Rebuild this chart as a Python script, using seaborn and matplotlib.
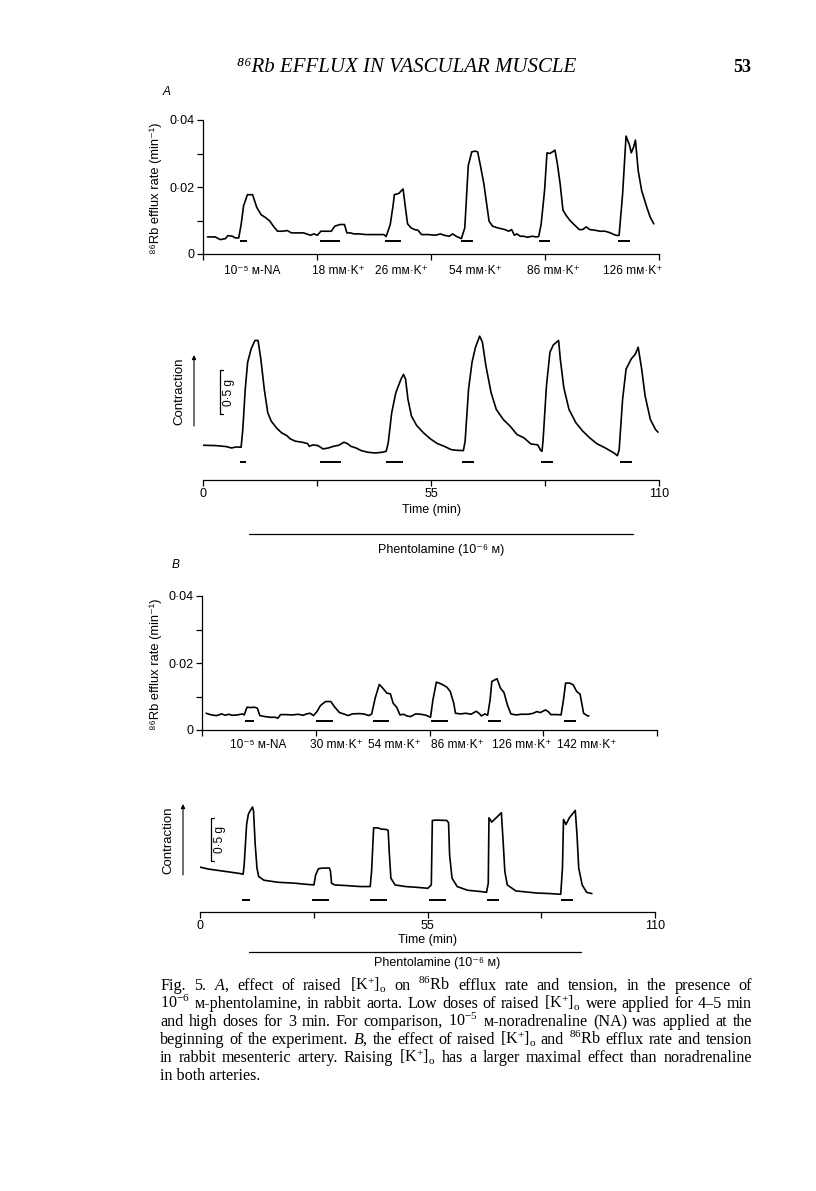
import numpy as np
import pandas as pd
import matplotlib
matplotlib.use("Agg")
import matplotlib.pyplot as plt
import matplotlib.transforms as mtransforms
import seaborn as sns

# ---------------- data ----------------
# Panel A (rabbit aorta): 86Rb efflux rate (min^-1) vs time (min)
effA_t = [1.09, 2.93, 4.18, 5.44, 6.02, 7.11, 7.78, 8.62, 9.20, 9.79,
          10.71, 11.96, 12.97, 14.05, 15.06, 16.14, 16.98, 17.98, 19.24, 20.33,
          21.33, 23.00, 24.26, 25.93, 26.77, 27.60, 28.44, 30.11, 30.95, 31.79,
          33.04, 34.13, 34.71, 35.55, 36.39, 37.64, 39.31, 40.99, 42.66, 43.66,
          44.17, 45.17, 45.84, 46.17, 47.26, 47.85, 48.27, 48.77, 49.35, 50.19,
          51.03, 51.86, 52.70, 54.37, 56.05, 57.30, 58.14, 59.39, 60.23, 61.06,
          62.32, 63.15, 63.99, 64.83, 65.67, 66.25, 66.92, 67.76, 68.43, 69.01,
          69.85, 71.10, 72.78, 73.78, 74.45, 75.12, 75.70, 76.54, 77.38, 78.21,
          79.47, 80.30, 80.97, 81.56, 82.39, 82.98, 83.65, 84.32, 84.90, 85.49,
          86.16, 86.83, 87.67, 88.67, 89.51, 90.76, 91.60, 92.44, 93.27, 94.53,
          95.78, 97.03, 98.29, 99.12, 99.96, 100.38, 101.22, 102.05, 102.89, 103.31,
          103.90, 104.31, 104.98, 105.82, 107.07, 107.91, 108.75]
effA_v = [0.0051, 0.0051, 0.0043, 0.0046, 0.0055, 0.0053, 0.0048, 0.0048, 0.0088, 0.0144,
          0.0177, 0.0177, 0.0139, 0.0117, 0.0109, 0.0098, 0.0083, 0.0068, 0.0068, 0.0070,
          0.0063, 0.0063, 0.0063, 0.0056, 0.0060, 0.0056, 0.0068, 0.0068, 0.0068, 0.0083,
          0.0088, 0.0088, 0.0063, 0.0063, 0.0060, 0.0060, 0.0058, 0.0058, 0.0058, 0.0058,
          0.0052, 0.0088, 0.0144, 0.0177, 0.0181, 0.0189, 0.0194, 0.0144, 0.0090, 0.0078,
          0.0073, 0.0071, 0.0058, 0.0058, 0.0056, 0.0060, 0.0056, 0.0053, 0.0060, 0.0053,
          0.0046, 0.0078, 0.0264, 0.0305, 0.0307, 0.0305, 0.0264, 0.0209, 0.0149, 0.0098,
          0.0083, 0.0078, 0.0073, 0.0068, 0.0073, 0.0056, 0.0060, 0.0053, 0.0053, 0.0050,
          0.0053, 0.0051, 0.0052, 0.0088, 0.0189, 0.0302, 0.0300, 0.0305, 0.0310, 0.0269,
          0.0209, 0.0131, 0.0114, 0.0098, 0.0088, 0.0073, 0.0073, 0.0081, 0.0073, 0.0071,
          0.0068, 0.0068, 0.0063, 0.0058, 0.0055, 0.0056, 0.0179, 0.0352, 0.0325, 0.0302,
          0.0320, 0.0340, 0.0249, 0.0189, 0.0139, 0.0109, 0.0090]

# Panel A: contraction (g, relative) vs time (min)
conA_t = [0, 3.09, 5.60, 6.85, 8.10, 9.19, 9.60, 10.19, 10.77, 11.61,
          12.53, 13.28, 13.95, 14.78, 15.62, 16.45, 17.71, 18.96, 20.21, 21.05,
          22.30, 23.97, 25.22, 25.64, 26.48, 27.73, 28.98, 30.23, 31.49, 32.74,
          33.99, 34.83, 35.66, 36.92, 38.17, 39.84, 41.51, 43.18, 44.18, 44.68,
          45.52, 46.52, 47.77, 48.36, 48.86, 49.44, 50.28, 51.53, 53.20, 54.87,
          56.54, 58.21, 59.88, 61.14, 62.81, 63.23, 64.06, 64.90, 65.73, 66.73,
          67.40, 68.24, 69.49, 70.74, 72.41, 74.08, 75.75, 77.42, 79.09, 80.76,
          81.43, 81.77, 82.02, 82.85, 83.69, 84.52, 85.78, 86.19, 87.03, 88.28,
          89.95, 91.62, 93.29, 94.96, 97.05, 99.14, 99.97, 100.39, 101.22, 102.06,
          103.31, 104.32, 104.98, 105.82, 106.65, 107.91, 109.16, 109.75]
conA_g = [0.088, 0.084, 0.073, 0.057, 0.069, 0.065, 0.267, 0.725, 1.031, 1.183,
          1.279, 1.279, 1.069, 0.725, 0.458, 0.363, 0.286, 0.229, 0.198, 0.160,
          0.134, 0.122, 0.107, 0.076, 0.092, 0.084, 0.046, 0.057, 0.076, 0.088,
          0.122, 0.107, 0.076, 0.057, 0.027, 0.008, 0.0, 0.008, 0.019, 0.115,
          0.458, 0.687, 0.840, 0.893, 0.840, 0.611, 0.420, 0.313, 0.229, 0.160,
          0.107, 0.076, 0.038, 0.031, 0.027, 0.134, 0.725, 1.031, 1.202, 1.328,
          1.260, 0.992, 0.687, 0.496, 0.382, 0.305, 0.210, 0.172, 0.103, 0.092,
          0.031, 0.019, 0.134, 0.763, 1.145, 1.229, 1.279, 1.069, 0.744, 0.496,
          0.344, 0.248, 0.172, 0.107, 0.057, 0.0, -0.031, 0.038, 0.611, 0.954,
          1.069, 1.126, 1.202, 0.954, 0.649, 0.382, 0.267, 0.237]

# Panel B (rabbit mesenteric artery)
effB_t = [1.00, 2.26, 3.52, 4.77, 5.61, 6.45, 7.28, 8.54, 9.79, 10.21,
          10.88, 11.72, 12.72, 13.39, 13.98, 15.24, 16.49, 17.75, 18.33, 19.00,
          20.26, 21.93, 23.19, 24.44, 25.28, 26.12, 26.95, 27.79, 28.63, 29.88,
          31.14, 31.98, 33.23, 34.49, 35.33, 36.33, 37.84, 39.09, 40.35, 41.02,
          41.86, 42.86, 43.70, 44.70, 45.54, 46.21, 47.05, 47.88, 48.72, 49.56,
          50.39, 51.65, 52.90, 54.16, 55.25, 55.83, 56.67, 57.93, 59.18, 60.02,
          60.86, 61.28, 62.53, 63.79, 65.04, 66.30, 67.13, 67.55, 68.39, 69.06,
          69.65, 70.07, 71.32, 72.16, 73.00, 73.83, 74.67, 75.93, 77.18, 78.86,
          80.11, 80.95, 81.79, 83.04, 83.88, 84.30, 85.97, 86.81, 87.39, 87.90,
          88.90, 89.74, 90.58, 91.41, 92.25, 93.09, 93.51]
effB_v = [0.0050, 0.0045, 0.0043, 0.0048, 0.0044, 0.0047, 0.0044, 0.0045, 0.0048, 0.0045,
          0.0068, 0.0067, 0.0068, 0.0065, 0.0043, 0.0040, 0.0038, 0.0038, 0.0035, 0.0046,
          0.0046, 0.0045, 0.0047, 0.0044, 0.0048, 0.0050, 0.0043, 0.0055, 0.0073, 0.0085,
          0.0085, 0.0070, 0.0052, 0.0047, 0.0043, 0.0048, 0.0049, 0.0048, 0.0043, 0.0048,
          0.0095, 0.0136, 0.0125, 0.0110, 0.0108, 0.0080, 0.0068, 0.0045, 0.0047, 0.0042,
          0.0040, 0.0048, 0.0047, 0.0044, 0.0038, 0.0090, 0.0143, 0.0137, 0.0128, 0.0115,
          0.0080, 0.0050, 0.0048, 0.0050, 0.0047, 0.0056, 0.0048, 0.0042, 0.0048, 0.0044,
          0.0090, 0.0145, 0.0153, 0.0125, 0.0112, 0.0075, 0.0048, 0.0045, 0.0047, 0.0047,
          0.0050, 0.0055, 0.0052, 0.0060, 0.0053, 0.0046, 0.0046, 0.0045, 0.0090, 0.0140,
          0.0140, 0.0135, 0.0115, 0.0107, 0.0050, 0.0043, 0.0042]

conB_t = [0, 2.09, 6.26, 9.60, 10.43, 10.68, 11.27, 11.68, 12.10, 12.69,
          12.94, 13.35, 13.77, 14.19, 15.44, 18.78, 22.95, 25.46, 27.54, 27.96,
          28.63, 29.63, 31.30, 31.55, 31.80, 32.55, 35.47, 38.81, 41.15, 41.48,
          41.98, 42.98, 43.82, 45.07, 45.49, 45.74, 46.15, 47.15, 49.66, 52.16,
          55.08, 55.92, 56.17, 57.17, 59.67, 60.09, 60.34, 60.93, 62.18, 64.68,
          68.02, 69.27, 69.69, 69.86, 70.52, 71.78, 72.86, 73.28, 73.70, 74.28,
          76.37, 81.37, 84.71, 87.21, 87.63, 87.88, 88.47, 89.30, 90.72, 91.14,
          91.56, 92.39, 93.48, 94.73]
conB_g = [0.324, 0.301, 0.273, 0.250, 0.242, 0.352, 0.820, 0.938, 0.977, 1.023,
          0.977, 0.586, 0.313, 0.215, 0.172, 0.148, 0.137, 0.125, 0.117, 0.234,
          0.305, 0.313, 0.313, 0.273, 0.137, 0.117, 0.109, 0.098, 0.098, 0.273,
          0.781, 0.781, 0.766, 0.762, 0.750, 0.508, 0.195, 0.117, 0.098, 0.090,
          0.078, 0.117, 0.867, 0.871, 0.867, 0.840, 0.469, 0.195, 0.098, 0.055,
          0.039, 0.031, 0.137, 0.898, 0.848, 0.906, 0.957, 0.625, 0.273, 0.117,
          0.047, 0.023, 0.016, 0.008, 0.313, 0.879, 0.820, 0.898, 0.984, 0.703,
          0.313, 0.117, 0.031, 0.016]

# application periods (min)
stimA_eff_start = [9.0, 28.3, 44.0, 62.3, 81.1, 100.2]
stimA_eff_end = [10.7, 33.0, 47.8, 65.2, 83.8, 103.0]
stimA_con_start = [8.9, 28.3, 44.2, 62.4, 81.6, 100.6]
stimA_con_end = [10.4, 33.3, 48.2, 65.3, 84.5, 103.6]
stimB_eff_start = [10.5, 27.5, 41.4, 55.4, 69.2, 87.4]
stimB_eff_end = [12.5, 31.6, 45.2, 59.4, 72.2, 90.4]
stimB_con_start = [10.2, 27.1, 41.1, 55.3, 69.3, 87.2]
stimB_con_end = [12.1, 31.3, 45.3, 59.4, 72.4, 90.1]
phentA = [11.0, 103.7]
phentB = [11.9, 92.1]

labelsA = ["10⁻⁵ ᴍ-NA", "18 mᴍ·K⁺", "26 mᴍ·K⁺", "54 mᴍ·K⁺", "86 mᴍ·K⁺", "126 mᴍ·K⁺"]
labelsB = ["10⁻⁵ ᴍ-NA", "30 mᴍ·K⁺", "54 mᴍ·K⁺", "86 mᴍ·K⁺", "126 mᴍ·K⁺", "142 mᴍ·K⁺"]
time_ticks = [0, 27.5, 55, 82.5, 110]
time_ticklabels = ["0", "", "55", "", "110"]
eff_ticks = [0, 0.02, 0.04]
eff_ticklabels = ["0", "0·02", "0·04"]
eff_minor = [0.01, 0.03]

KO = r"$[\mathrm{K}^{+}]_{\mathrm{o}}$"
caption = [
    r"Fig. 5. $\it{A}$, effect of raised " + KO + r" on ${}^{86}$Rb efflux rate and tension, in the presence of",
    r"10${}^{-6}$ ᴍ-phentolamine, in rabbit aorta. Low doses of raised " + KO + r" were applied for 4–5 min",
    r"and high doses for 3 min. For comparison, 10${}^{-5}$ ᴍ-noradrenaline (NA) was applied at the",
    r"beginning of the experiment. $\it{B}$, the effect of raised " + KO + r" and ${}^{86}$Rb efflux rate and tension",
    r"in rabbit mesenteric artery. Raising " + KO + r" has a larger maximal effect than noradrenaline",
    r"in both arteries.",
]

# ---------------- style ----------------
sns.set_theme(style="ticks")
SANS = ['Liberation Sans', 'DejaVu Sans']
SERIF = ['Liberation Serif', 'DejaVu Serif', 'DejaVu Sans']
plt.rcParams['font.family'] = SANS
plt.rcParams['mathtext.fontset'] = 'custom'
plt.rcParams['mathtext.rm'] = 'Liberation Serif'
plt.rcParams['mathtext.it'] = 'Liberation Serif:italic'
plt.rcParams['mathtext.bf'] = 'Liberation Serif:bold'
plt.rcParams['axes.linewidth'] = 0.9
plt.rcParams['text.color'] = 'black'

W, H = 816, 1191
fig = plt.figure(figsize=(W / 100, H / 100), dpi=100)
fig.patch.set_facecolor('white')


def fy(ypx):
    return 1 - ypx / H


def fx(xpx):
    return xpx / W


def px_axes(left, right, top, bottom):
    ax = fig.add_axes([left / W, 1 - bottom / H, (right - left) / W, (bottom - top) / H])
    ax.set_facecolor('none')
    return ax


LW = 1.2
TICK_FS = 9
LAB_FS = 8.6
AX_FS = 9


def style_time_axis(ax, show_labels):
    ax.set_xlim(0, 110)
    ax.set_xticks(time_ticks)
    ax.set_xticklabels(time_ticklabels if show_labels else [""] * len(time_ticks))
    ax.tick_params(axis='x', direction='out', length=4, width=0.9, pad=2,
                   labelsize=TICK_FS, colors='black')
    ax.spines['top'].set_visible(False)
    ax.spines['right'].set_visible(False)
    ax.spines['bottom'].set_color('black')
    ax.set_xlabel("")
    ax.set_ylabel("")


def efflux_panel(ax, t, v, s0, s1, bar_level, labels, label_t, label_y):
    df = pd.DataFrame({"time": t, "rate": v})
    sns.lineplot(data=df, x="time", y="rate", ax=ax, color='black', lw=LW,
                 estimator=None, sort=False)
    ax.hlines([bar_level] * len(s0), s0, s1, color='black', lw=1.4)
    style_time_axis(ax, False)
    ax.set_ylim(0, 0.04)
    ax.set_yticks(eff_ticks)
    ax.set_yticklabels(eff_ticklabels)
    ax.set_yticks(eff_minor, minor=True)
    ax.tick_params(axis='y', which='both', direction='out', length=4, width=0.9,
                   pad=2, labelsize=TICK_FS, colors='black')
    ax.spines['left'].set_color('black')
    tr = mtransforms.blended_transform_factory(ax.transData, fig.transFigure)
    for lab, tt in zip(labels, label_t):
        ax.text(tt, fy(label_y), lab, transform=tr, ha='center', va='center',
                fontsize=LAB_FS, family=SANS)


def contraction_panel(ax, t, g, s0, s1, bar_level, ylim, phent, yinfo):
    df = pd.DataFrame({"time": t, "tension": g})
    sns.lineplot(data=df, x="time", y="tension", ax=ax, color='black', lw=LW,
                 estimator=None, sort=False)
    ax.hlines([bar_level] * len(s0), s0, s1, color='black', lw=1.4)
    style_time_axis(ax, True)
    ax.set_ylim(*ylim)
    ax.set_yticks([])
    ax.spines['left'].set_visible(False)
    trx = mtransforms.blended_transform_factory(ax.transData, fig.transFigure)
    # time label & phentolamine bar
    ax.text(55, fy(yinfo['time_lab']), "Time (min)", transform=trx, ha='center',
            va='center', fontsize=AX_FS)
    ax.plot(phent, [fy(yinfo['phent_line'])] * 2, transform=trx, color='black',
            lw=0.9, clip_on=False)
    ax.text(57.4, fy(yinfo['phent_lab']), "Phentolamine (10⁻⁶ ᴍ)", transform=trx,
            ha='center', va='center', fontsize=AX_FS)
    # contraction arrow and label
    ax.annotate("", xy=(fx(yinfo['arrow_x']), fy(yinfo['arrow_top'])),
                xytext=(fx(yinfo['arrow_x']), fy(yinfo['arrow_bot'])),
                xycoords='figure fraction', textcoords='figure fraction',
                arrowprops=dict(arrowstyle='-|>', lw=0.8, color='black',
                                mutation_scale=6, shrinkA=0, shrinkB=0))
    fig.text(fx(yinfo['cont_x']), fy(yinfo['cont_y']), "Contraction", rotation=90,
             ha='center', va='center', fontsize=9.5)
    # 0.5 g scale bar (drawn in data units of tension)
    trs = mtransforms.blended_transform_factory(fig.transFigure, ax.transData)
    sx = fx(yinfo['scale_x'])
    dx = 3 / W
    lo, hi = yinfo['scale_lo'], yinfo['scale_lo'] + 0.5
    ax.plot([sx + dx, sx, sx, sx + dx], [lo, lo, hi, hi], transform=trs,
            color='black', lw=0.9, clip_on=False)
    ax.text(sx + 9 / W, (lo + hi) / 2, "0·5 g", transform=trs, rotation=90,
            ha='center', va='center', fontsize=8.6)


# ---------------- panels ----------------
axA1 = px_axes(203, 659, 120, 254)
efflux_panel(axA1, effA_t, effA_v, stimA_eff_start, stimA_eff_end, 0.0038, labelsA,
             [(a + b) / 2 + 2.0 for a, b in zip(stimA_eff_start, stimA_eff_end)], 271.5)

axA2 = px_axes(203, 659, 330, 480)
contraction_panel(axA2, conA_t, conA_g, stimA_con_start, stimA_con_end, -0.097,
                  (-0.307, 1.398), phentA,
                  dict(time_lab=510, phent_line=534, phent_lab=550, arrow_x=194,
                       arrow_top=355, arrow_bot=426, cont_x=179, cont_y=391,
                       scale_x=220, scale_lo=0.443))

axB1 = px_axes(202, 657, 596, 730)
efflux_panel(axB1, effB_t, effB_v, stimB_eff_start, stimB_eff_end, 0.0028, labelsB,
             [13.6, 32.4, 46.6, 61.7, 77.2, 93.1], 745)

axB2 = px_axes(200, 655, 795, 912)
contraction_panel(axB2, conB_t, conB_g, stimB_con_start, stimB_con_end, -0.058,
                  (-0.198, 1.163), phentB,
                  dict(time_lab=940, phent_line=952, phent_lab=963, arrow_x=183,
                       arrow_top=804, arrow_bot=875, cont_x=168, cont_y=840,
                       scale_x=211, scale_lo=0.39))

# y labels of efflux panels
ylab = "⁸⁶Rb efflux rate (min⁻¹)"
fig.text(fx(156), fy(188), ylab, rotation=90, ha='center', va='center', fontsize=9.3)
fig.text(fx(156), fy(664), ylab, rotation=90, ha='center', va='center', fontsize=9.3)

# panel letters
fig.text(fx(167), fy(92), "A", style='italic', ha='center', va='center', fontsize=8.6)
fig.text(fx(176), fy(565), "B", style='italic', ha='center', va='center', fontsize=8.6)

# running header
fig.text(fx(407), fy(68), "⁸⁶Rb EFFLUX IN VASCULAR MUSCLE", family=SERIF,
         style='italic', ha='center', va='center', fontsize=15)
fig.text(fx(742), fy(68), "53", family=SERIF, weight='bold', ha='center',
         va='center', fontsize=13)

# caption (justified)
renderer = fig.canvas.get_renderer()
CAP_FS = 11.6
x0, x1 = 160, 752
for i, line in enumerate(caption):
    ybase = 990 + i * 18
    words = line.split(" ")
    if i == len(caption) - 1:
        fig.text(fx(x0), fy(ybase), line, family=SERIF, fontsize=CAP_FS,
                 ha='left', va='baseline')
        continue
    widths = []
    for w in words:
        tmp = fig.text(0, 0, w, family=SERIF, fontsize=CAP_FS)
        widths.append(tmp.get_window_extent(renderer=renderer).width)
        tmp.remove()
    gap = max((x1 - x0 - sum(widths)) / (len(words) - 1), 2.0)
    x = x0
    for w, wd in zip(words, widths):
        fig.text(fx(x), fy(ybase), w, family=SERIF, fontsize=CAP_FS,
                 ha='left', va='baseline')
        x += wd + gap

fig.savefig("out.png", dpi=100, facecolor='white')
